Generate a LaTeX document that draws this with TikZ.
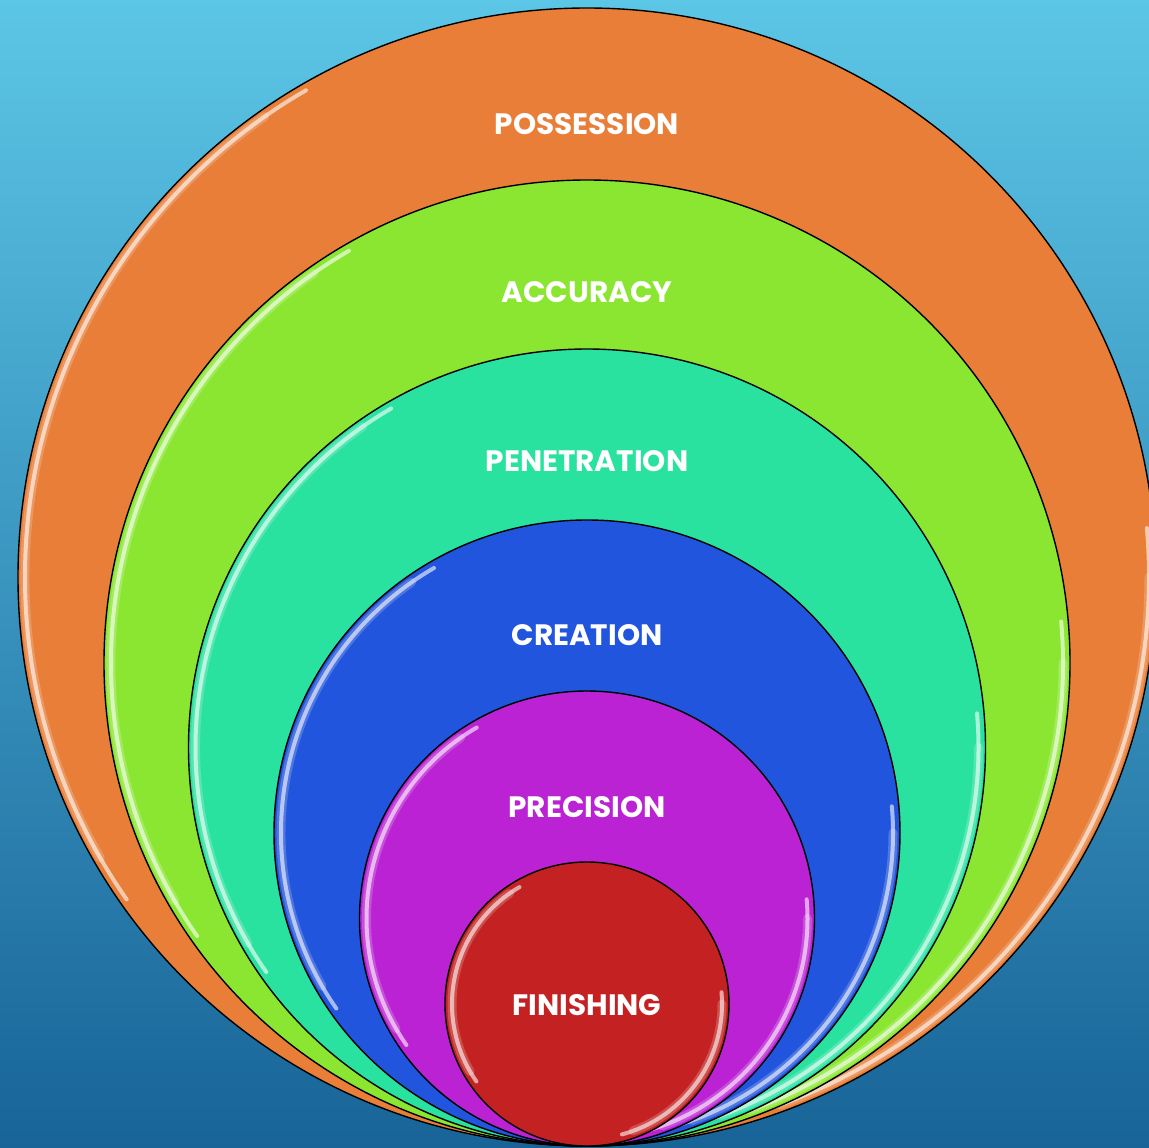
\documentclass[tikz,border=0pt]{standalone}
\usepackage{fontspec}
\setmainfont{Poppins}
\begin{document}
\begin{tikzpicture}[x=1pt,y=-1pt,
  ring/.style={draw=black,line width=1.4pt},
  gloss/.style={draw=white,line width=4pt,draw opacity=0.6,line cap=round},
  glosssoft/.style={draw=white,line width=9pt,draw opacity=0.2,line cap=round},
  lbl/.style={text=white,font=\fontsize{29.5}{30}\selectfont\bfseries}]
\definecolor{cOrange}{RGB}{232,126,56}
\definecolor{cGreen}{RGB}{139,230,50}
\definecolor{cTeal}{RGB}{42,226,160}
\definecolor{cBlue}{RGB}{34,85,221}
\definecolor{cPurple}{RGB}{187,34,212}
\definecolor{cRed}{RGB}{196,34,34}
\definecolor{bgTop}{RGB}{92,198,230}
\definecolor{bgBot}{RGB}{24,100,152}
\shade[top color=bgTop,bottom color=bgBot] (0,0) rectangle (1149,1148);
\useasboundingbox (0,0) rectangle (1149,1148);
\foreach \cy/\r/\col in {577/569/cOrange,663/483/cGreen,747.5/398.5/cTeal,833/313/cBlue,918.5/227.5/cPurple,1004/142/cRed}{
  \fill[\col] (587,\cy) circle (\r);
  \begin{scope}
    \clip (587,\cy) circle (\r);
    \draw[glosssoft] (587,\cy) ++(150:\r-7) arc (150:235:\r-7);
    \draw[gloss] (587,\cy) ++(145:\r-7) arc (145:240:\r-7);
    \draw[glosssoft] (587,\cy) ++(0:\r-7) arc (0:70:\r-7);
    \draw[gloss] (587,\cy) ++(-5:\r-7) arc (-5:75:\r-7);
  \end{scope}
  \draw[ring] (587,\cy) circle (\r);
}
\node[lbl] (possession) at (587,124) {POSSESSION};
\node[lbl] (accuracy) at (587,292) {ACCURACY};
\node[lbl] (penetration) at (587,461) {PENETRATION};
\node[lbl] (creation) at (587,635) {CREATION};
\node[lbl] (precision) at (587,807) {PRECISION};
\node[lbl] (finishing) at (587,1005) {FINISHING};
\end{tikzpicture}
\end{document}
